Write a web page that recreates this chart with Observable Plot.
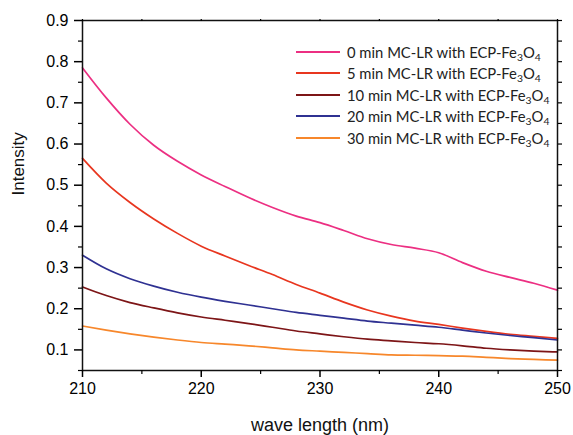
<!DOCTYPE html>
<html><head><meta charset="utf-8">
<script src="https://cdn.jsdelivr.net/npm/d3@7"></script>
<script src="https://cdn.jsdelivr.net/npm/@observablehq/plot@0.6"></script>
<style>
body{margin:0;background:#fff}
#wrap{position:relative;width:573px;height:435px}
#legend{position:absolute;left:296px;top:41px;font-family:Lato,"Open Sans",sans-serif;font-size:14.8px;color:#222}
#legend .row{display:flex;align-items:center;height:21.5px;white-space:nowrap}
#legend .sw{display:inline-block;width:44px;height:2px;margin-right:7px}
#legend sub{font-size:0.7em;vertical-align:-0.25em;line-height:0}
</style>
</head><body><div id="wrap"></div>
<script>
const wavelengths = [210,212,214,216,218,220,222,224,226,228,230,232,234,236,238,240,242,244,246,248,250];
const seriesNames = ["0 min","5 min","10 min","20 min","30 min"];
const int0  = [0.785,0.712,0.648,0.597,0.558,0.525,0.497,0.470,0.446,0.425,0.409,0.390,0.370,0.356,0.347,0.336,0.312,0.291,0.276,0.262,0.245];
const int5  = [0.565,0.505,0.458,0.418,0.383,0.352,0.328,0.305,0.283,0.259,0.238,0.216,0.197,0.182,0.170,0.162,0.153,0.145,0.138,0.133,0.128];
const int10 = [0.253,0.232,0.215,0.202,0.190,0.180,0.172,0.164,0.155,0.146,0.139,0.132,0.126,0.122,0.118,0.115,0.110,0.104,0.100,0.097,0.095];
const int20 = [0.33,0.297,0.273,0.255,0.240,0.228,0.218,0.209,0.200,0.191,0.184,0.177,0.170,0.165,0.160,0.155,0.148,0.141,0.135,0.130,0.124];
const int30 = [0.158,0.148,0.139,0.131,0.124,0.118,0.114,0.110,0.105,0.100,0.097,0.094,0.091,0.088,0.087,0.086,0.085,0.082,0.079,0.077,0.075];
const colors = ["#ec2f82","#e8361f","#7d1517","#2f3192","#f7872b"];
const xTicks = [210,220,230,240,250];
const xMinor = [215,225,235,245];
const yTicks = [0.1,0.2,0.3,0.4,0.5,0.6,0.7,0.8,0.9];
const yMinor = [0.05,0.15,0.25,0.35,0.45,0.55,0.65,0.75,0.85];
const xLabel = "wave length (nm)";
const yLabel = "Intensity";

const allSeries = [int0,int5,int10,int20,int30];
const rows = [];
allSeries.forEach((vals, s) => vals.forEach((v, i) => rows.push({w: wavelengths[i], v, s: seriesNames[s]})));

const plot = Plot.plot({
  width: 573, height: 435,
  marginLeft: 82, marginRight: 16, marginTop: 20, marginBottom: 65,
  x: {domain: [210, 250]},
  y: {domain: [0.05, 0.9]},
  color: {domain: seriesNames, range: colors},
  style: {fontFamily: "'Liberation Sans', Arial, sans-serif", fontSize: "16px", color: "#000", background: "#fff"},
  marks: [
    Plot.line(rows, {x: "w", y: "v", z: "s", stroke: "s", strokeWidth: 1.7, curve: "monotone-x"}),
    Plot.frame({stroke: "#111", strokeWidth: 1.5}),
    Plot.axisX(xTicks, {tickSize: 7, tickPadding: 5, tickFormat: d => String(d), fontSize: 16, strokeWidth: 1.5, label: null}),
    Plot.axisX(xMinor, {tickSize: 4, fill: "none", label: null, strokeWidth: 1.2}),
    Plot.axisY(yTicks, {tickSize: 8, tickPadding: 6, tickFormat: d => d.toFixed(1), fontSize: 16, strokeWidth: 1.5, label: null}),
    Plot.axisY(yMinor, {tickSize: 4, fill: "none", label: null, strokeWidth: 1.2}),
    Plot.axisY(yTicks.concat(yMinor), {anchor: "right", tickSize: 4, fill: "none", label: null, strokeWidth: 1.2}),
    Plot.axisX(xTicks.concat(xMinor), {anchor: "top", tickSize: 2, fill: "none", label: null, strokeWidth: 1.2}),
    Plot.text([xLabel], {frameAnchor: "bottom", dy: 55, fontSize: 18, fill: "#111", lineAnchor: "middle"}),
    Plot.text([yLabel], {frameAnchor: "left", dx: -64, rotate: -90, fontSize: 17, fill: "#111", lineAnchor: "middle"})
  ]
});
const wrap = document.getElementById("wrap");
wrap.appendChild(plot);

const legend = document.createElement("div");
legend.id = "legend";
seriesNames.forEach((n, i) => {
  const row = document.createElement("div");
  row.className = "row";
  row.innerHTML = `<span class="sw" style="background:${colors[i]}"></span><span>${n} MC-LR with ECP-Fe<sub>3</sub>O<sub>4</sub></span>`;
  legend.appendChild(row);
});
wrap.appendChild(legend);
</script>
</body></html>
